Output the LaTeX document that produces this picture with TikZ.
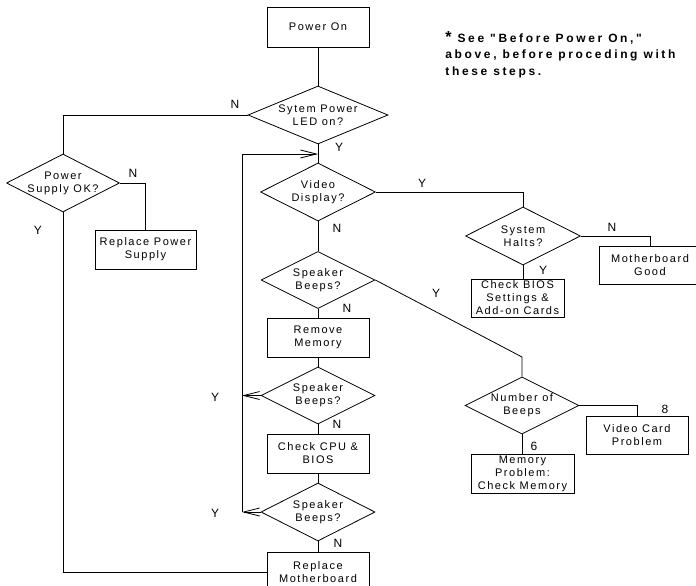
\documentclass[tikz,border=0pt]{standalone}
\usepackage{fontspec}
\setmainfont{Liberation Sans}[LetterSpace=14]
\newfontfamily\notefont{Liberation Sans}[LetterSpace=22]
\newfontfamily\ynfont{Liberation Sans}
\usepackage{tikz}
\usetikzlibrary{shapes, arrows.meta}

\begin{document}
\begin{tikzpicture}[x=1pt, y=-1pt, inner sep=0pt, line width=0.8pt,
  font=\fontsize{11}{13}\selectfont,
  box/.style={draw, rectangle, align=center, minimum width=102pt, minimum height=39pt},
  dia/.style={draw, diamond, minimum width=114pt, minimum height=58pt},
  yn/.style={font=\ynfont\fontsize{12}{14}\selectfont},
  back/.style={-{Straight Barb[length=16pt,width=8pt]}}]
  \clip (0,0) rectangle (696,586);

  \node[box, minimum height=40pt] (on) at (318,27) {Power On};
  \node[dia, minimum width=140pt, label={[align=center]center:Sytem Power\\LED on?}] (led) at (318,115) {};
  \node[dia, minimum width=113pt, label={[align=center]center:Power\\Supply OK?}] (psu) at (63,183) {};
  \node[box, minimum width=101pt] (rps) at (145.5,249.5) {Replace Power\\Supply};
  \node[dia, minimum width=115pt, label={[align=center]center:Video\\Display?}] (vid) at (318,192) {};
  \node[dia, minimum width=115pt, label={[align=center]center:System\\Halts?}] (halt) at (523,236) {};
  \node[box, minimum height=38pt] (good) at (650,265) {Motherboard\\Good};
  \node[box, minimum width=93pt, minimum height=38pt] (bios) at (517.5,298) {Check BIOS\\Settings \&\\Add-on Cards};
  \node[dia, minimum height=57pt, label={[align=center]center:Speaker\\Beeps?}] (spk1) at (318,280) {};
  \node[box] (rmem) at (318,337.5) {Remove\\Memory};
  \node[dia, minimum height=57pt, label={[align=center]center:Speaker\\Beeps?}] (spk2) at (318,395.5) {};
  \node[box] (cpu) at (318,453.5) {Check CPU \&\\BIOS};
  \node[dia, label={[align=center]center:Speaker\\Beeps?}] (spk3) at (318,512) {};
  \node[box, minimum height=40pt] (rmb) at (318,572) {Replace\\Motherboard};
  \node[dia, minimum height=57pt, label={[align=center]center:Number of\\Beeps}] (nbeep) at (522,405.5) {};
  \node[box, minimum height=38pt] (vcard) at (637,435) {Video Card\\Problem};
  \node[box, minimum width=103pt] (memp) at (522.5,473.5) {Memory\\Problem:\\Check Memory};

  \node[align=left, anchor=north west, font=\notefont\bfseries\fontsize{12}{16.5}\selectfont] (note) at (445,31)
    {{\fontsize{16}{16}\selectfont *} See "Before Power On,"\\above, before proceding with\\these steps.};

  \coordinate (jt) at (318,154);
  \coordinate (loop) at (242,512);
  \coordinate (bend) at (522,357);

  \draw (on) -- (led);
  \draw (led.west) -| (psu.north);
  \draw (led.south) -- (vid.north);
  \draw (psu.east) -| (rps.north);
  \draw (psu.south) |- (rmb.west);
  \draw (vid.east) -| (halt.north);
  \draw (vid.south) -- (spk1.north);
  \draw (halt.east) -| (good.north);
  \draw (halt.south) -- (halt.south |- bios.north);
  \draw (spk1.east) -- (bend) -- (nbeep.north);
  \draw (spk1.south) -- (rmem.north);
  \draw (rmem) -- (spk2);
  \draw (spk2.south) -- (cpu.north);
  \draw (cpu) -- (spk3);
  \draw (spk3.south) -- (rmb.north);
  \draw[back] (spk2.west) -- (spk2.west -| loop);
  \draw[back] (spk3.west) -- (loop);
  \draw[back] (loop) -- (loop |- jt) -- (jt);
  \draw (nbeep.east) -| (vcard.north);
  \draw (nbeep.south) -- (nbeep.south |- memp.north);

  \node[yn] (n1) at (235,104) {N};
  \node[yn] (y1) at (339,147) {Y};
  \node[yn] (n2) at (133,173) {N};
  \node[yn] (y2) at (38,230) {Y};
  \node[yn] (y3) at (422,183) {Y};
  \node[yn] (n3) at (337,228) {N};
  \node[yn] (n4) at (612,227) {N};
  \node[yn] (y4) at (543,270) {Y};
  \node[yn] (y5) at (436,293) {Y};
  \node[yn] (n5) at (347,308) {N};
  \node[yn] (y6) at (215,397) {Y};
  \node[yn] (n6) at (337,424) {N};
  \node[yn] (y7) at (215,513) {Y};
  \node[yn] (n7) at (338,543) {N};
  \node[yn] (b8) at (665,409) {8};
  \node[yn] (b6) at (534,446) {6};
\end{tikzpicture}
\end{document}
